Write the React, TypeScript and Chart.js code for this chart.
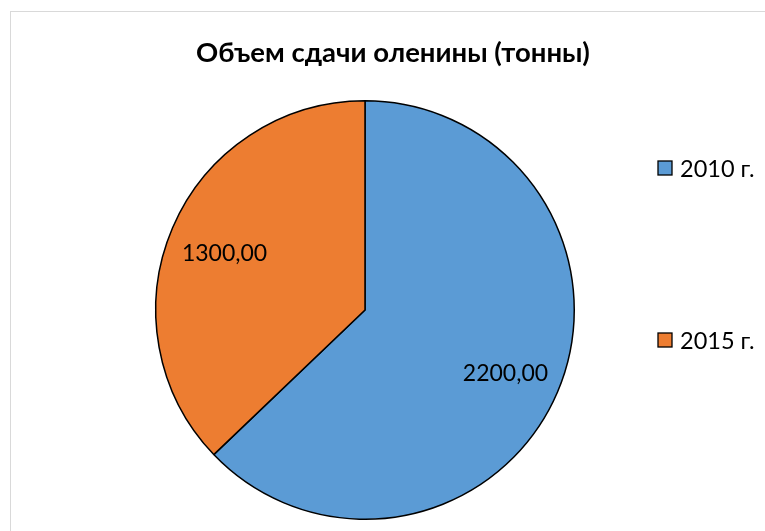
import React, { useEffect, useRef } from "react";
import { Chart, registerables } from "chart.js";

Chart.register(...registerables);

const titleText = "Объем сдачи оленины (тонны)";
const categories = ["2010 г.", "2015 г."];
const values = [2200, 1300];
const sliceColors = ["#5B9BD5", "#ED7D31"];

const FONT = "Lato, 'Open Sans', sans-serif";

const fmt = (v: number) => v.toFixed(2).replace(".", ",");

const extrasPlugin = {
  id: "extras",
  afterDraw(chart: any) {
    const ctx = chart.ctx as CanvasRenderingContext2D;
    ctx.save();
    // title
    ctx.fillStyle = "#000";
    ctx.font = `bold 27.5px ${FONT}`;
    ctx.textAlign = "center";
    ctx.textBaseline = "middle";
    ctx.fillText(titleText, 393, 53);

    // data labels
    const meta = chart.getDatasetMeta(0);
    ctx.font = `23px ${FONT}`;
    meta.data.forEach((arc: any, i: number) => {
      const p = arc.getProps(["x", "y", "startAngle", "endAngle", "outerRadius"], true);
      const mid = (p.startAngle + p.endAngle) / 2;
      const r = p.outerRadius * 0.73;
      ctx.fillText(fmt(values[i]), p.x + Math.cos(mid) * r, p.y + Math.sin(mid) * r + 4);
    });

    // legend
    const legendY = [168, 340];
    ctx.textAlign = "left";
    ctx.font = `23.5px ${FONT}`;
    categories.forEach((c, i) => {
      const y = legendY[i];
      ctx.fillStyle = sliceColors[i];
      ctx.fillRect(658, y - 7, 14, 14);
      ctx.strokeStyle = "#000";
      ctx.lineWidth = 1.3;
      ctx.strokeRect(658, y - 7, 14, 14);
      ctx.fillStyle = "#000";
      ctx.fillText(c, 680, y + 1);
    });
    ctx.restore();
  },
};

export default function App() {
  const ref = useRef<HTMLCanvasElement>(null);
  useEffect(() => {
    if (!ref.current) return;
    const chart = new Chart(ref.current, {
      type: "pie",
      data: {
        labels: categories,
        datasets: [
          {
            data: values,
            backgroundColor: sliceColors,
            borderColor: "#000",
            borderWidth: 1.5,
          },
        ],
      },
      options: {
        animation: false,
        responsive: false,
        devicePixelRatio: 1,
        layout: { padding: { left: 155, right: 190, top: 100, bottom: 11 } },
        plugins: {
          legend: { display: false },
          title: { display: false },
          tooltip: { enabled: false },
        },
      },
      plugins: [extrasPlugin],
    });
    return () => chart.destroy();
  }, []);

  return (
    <div style={{ position: "absolute", left: 0, top: 0, width: 765, height: 531, background: "#fff", overflow: "hidden" }}>
      <div
        style={{
          position: "absolute",
          left: 10,
          top: 11,
          width: 800,
          height: 600,
          border: "1.5px solid #d9d9d9",
          boxSizing: "border-box",
        }}
      />
      <canvas ref={ref} width={765} height={531} style={{ position: "absolute", left: 0, top: 0, width: 765, height: 531 }} />
    </div>
  );
}
